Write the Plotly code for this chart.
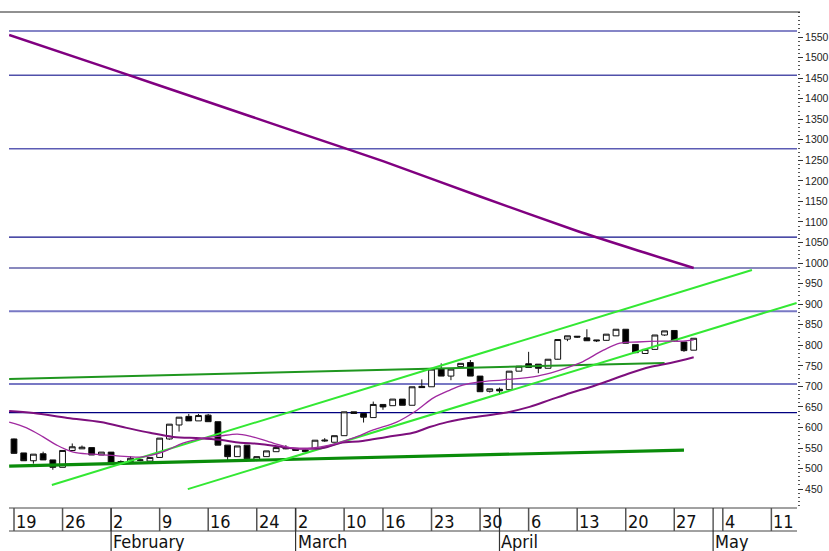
import plotly.graph_objects as go

# ---------------- data ----------------
trade_days = [
    "Jan 19", "Jan 20", "Jan 21", "Jan 22", "Jan 23",
    "Jan 26", "Jan 27", "Jan 28", "Jan 29", "Jan 30",
    "Feb 2", "Feb 3", "Feb 4", "Feb 5", "Feb 6",
    "Feb 9", "Feb 10", "Feb 11", "Feb 12", "Feb 13",
    "Feb 16", "Feb 17", "Feb 18", "Feb 19", "Feb 20",
    "Feb 24", "Feb 25", "Feb 26", "Feb 27",
    "Mar 2", "Mar 3", "Mar 4", "Mar 5", "Mar 6",
    "Mar 10", "Mar 11", "Mar 12", "Mar 13",
    "Mar 16", "Mar 17", "Mar 18", "Mar 19", "Mar 20",
    "Mar 23", "Mar 24", "Mar 25", "Mar 26", "Mar 27",
    "Mar 30", "Mar 31", "Apr 1", "Apr 2", "Apr 3",
    "Apr 6", "Apr 7", "Apr 8", "Apr 9", "Apr 10",
    "Apr 13", "Apr 14", "Apr 15", "Apr 16", "Apr 17",
    "Apr 20", "Apr 21", "Apr 22", "Apr 23", "Apr 24",
    "Apr 27", "Apr 28", "Apr 29",
]
future_days = ["Apr 30", "May 1", "May 4", "May 5", "May 6", "May 7", "May 8",
               "May 11", "May 12", "May 13", "May 14", "May 15"]

opens = [572, 538, 519, 536, 521, 503, 544, 548, 551, 533,
         540, 513, 517, 520, 518, 527, 572, 606, 627, 616,
         630, 614, 557, 529, 557, 521, 529, 541, 548, 549,
         545, 549, 567, 564, 580, 638, 634, 624, 656, 653,
         669, 654, 700, 699, 742, 725, 748, 758, 725, 688,
         693, 692, 737, 755, 754, 744, 766, 815, 822, 818,
         813, 812, 823, 839, 802, 780, 790, 825, 836, 808,
         788]
highs = [573, 538, 535, 541, 521, 544, 561, 556, 551, 540,
         540, 520, 530, 522, 527, 574, 608, 625, 633, 633,
         633, 614, 557, 555, 557, 529, 543, 555, 557, 549,
         546, 569, 574, 580, 638, 638, 634, 663, 656, 669,
         669, 699, 717, 742, 756, 742, 756, 764, 725, 694,
         697, 737, 749, 784, 754, 766, 814, 823, 822, 839,
         813, 827, 839, 839, 802, 791, 825, 835, 836, 808,
         817]
lows = [536, 519, 512, 521, 497, 503, 544, 548, 533, 533,
        509, 513, 517, 518, 518, 527, 570, 590, 616, 616,
        614, 557, 518, 529, 522, 518, 529, 541, 547, 544,
        541, 549, 565, 564, 580, 634, 612, 624, 643, 653,
        654, 654, 697, 699, 725, 715, 748, 725, 687, 685,
        679, 691, 737, 746, 732, 744, 767, 810, 818, 811,
        808, 813, 823, 805, 781, 779, 791, 823, 808, 784,
        788]
closes = [537, 519, 535, 521, 503, 544, 553, 552, 533, 540,
          513, 517, 525, 521, 527, 574, 608, 625, 616, 629,
          614, 557, 529, 555, 524, 529, 543, 551, 550, 544,
          541, 569, 569, 580, 638, 634, 625, 656, 650, 669,
          654, 699, 697, 742, 725, 742, 756, 725, 687, 694,
          689, 737, 749, 746, 744, 766, 814, 823, 820, 811,
          811, 827, 839, 805, 782, 790, 825, 835, 811, 787,
          817]

# short moving average (thin purple), sampled positions (trading-day index) and values
ma_short_x = [-0.5, 1.3, 3.0, 4.4, 6.1, 8.1, 10.6, 13.0, 14.3, 15.8, 17.4, 19.5,
              21.2, 23.0, 24.3, 26.7, 28.7, 30.8, 32.5, 34.9, 37.0, 39.4, 41.5,
              43.2, 44.9, 46.2, 48.0, 50.4, 53.9, 55.9, 58.3, 60.7, 62.4, 64.2,
              66.8, 68.9, 70.0]
ma_short_y = [613, 599, 577, 557, 540, 535, 531, 528, 533, 545, 562, 574,
              579, 584, 579, 562, 550, 550, 557, 574, 594, 613, 642,
              672, 691, 703, 711, 716, 725, 737, 757, 788, 805, 808,
              810, 810, 813]
# longer moving average (thicker purple)
ma_long_x = [-0.5, 2.0, 5.5, 8.9, 11.6, 14.0, 16.4, 19.2, 21.2, 23.3, 25.3, 27.7,
             29.8, 31.8, 33.6, 35.9, 38.4, 41.1, 42.8, 44.6, 47.3, 50.4, 53.1,
             55.2, 57.3, 59.3, 61.4, 63.4, 65.5, 67.6, 70.0]
ma_long_y = [640, 635, 623, 613, 599, 587, 577, 574, 570, 563, 560, 552,
             548, 550, 562, 567, 577, 587, 601, 613, 625, 635, 650,
             667, 684, 698, 715, 732, 747, 757, 771]
# long-term declining average
trend_long_x = [-0.5, 10, 20, 29, 38, 48, 58, 65, 70]
trend_long_y = [1555, 1472, 1392, 1320, 1248, 1162, 1078, 1025, 988]

# trend lines (endpoints: trading-day index, price)
support_x = [-0.5, 69.0]
support_y = [506, 545]
resist_x = [-0.5, 67.0]
resist_y = [718, 757]
chan_up_x = [3.9, 76.0]
chan_up_y = [460, 983]
chan_lo_x = [17.9, 80.6]
chan_lo_y = [450, 903]

# horizontal price levels
levels = [1565, 1457, 1278, 1063, 988, 883, 706, 636]
level_colors = ["#5c5cb4", "#5050aa", "#5c5cb4", "#10108a", "#14147e",
                "#7878c4", "#7878c4", "#000080"]
level_widths = [1.5, 1.5, 1.5, 1.2, 1.2, 2, 2, 1.2]

week_ticks = ["Jan 19", "Jan 26", "Feb 2", "Feb 9", "Feb 16", "Feb 24", "Mar 2",
              "Mar 10", "Mar 16", "Mar 23", "Mar 30", "Apr 6", "Apr 13",
              "Apr 20", "Apr 27", "May 4", "May 11"]
month_starts = ["Feb 2", "Mar 2", "Apr 1", "May 1"]
month_names = ["February", "March", "April", "May"]

y_ticks = list(range(450, 1551, 50))

# ---------------- figure ----------------
all_days = trade_days + future_days
pos = {d: i for i, d in enumerate(all_days)}
idx = list(range(len(trade_days)))

W, H = 829, 551
ML, MR, MT, MB = 9, 32, 12, 43
PH = H - MT - MB
PW = W - ML - MR
XR = [-0.515, 80.64]

NARROW = "Liberation Sans Narrow, Arial Narrow, DejaVu Sans Condensed, Liberation Sans, sans-serif"

fig = go.Figure()

fig.add_trace(go.Scatter(x=trend_long_x, y=trend_long_y, mode="lines", line_shape="spline",
                         line=dict(color="#800080", width=2.5, smoothing=0.6), hoverinfo="skip"))
fig.add_trace(go.Scatter(x=support_x, y=support_y, mode="lines",
                         line=dict(color="#0a8c0a", width=3.2), hoverinfo="skip"))
fig.add_trace(go.Scatter(x=resist_x, y=resist_y, mode="lines",
                         line=dict(color="#1f961f", width=2), hoverinfo="skip"))
fig.add_trace(go.Scatter(x=chan_up_x, y=chan_up_y, mode="lines",
                         line=dict(color="#33e833", width=2), hoverinfo="skip"))
fig.add_trace(go.Scatter(x=chan_lo_x, y=chan_lo_y, mode="lines",
                         line=dict(color="#33e833", width=2), hoverinfo="skip"))
fig.add_trace(go.Scatter(x=ma_long_x, y=ma_long_y, mode="lines", line_shape="spline",
                         line=dict(color="#7d0f7d", width=2), hoverinfo="skip"))
fig.add_trace(go.Scatter(x=ma_short_x, y=ma_short_y, mode="lines", line_shape="spline",
                         line=dict(color="#a02aa0", width=1.3), hoverinfo="skip"))

fig.add_trace(go.Candlestick(
    x=idx, open=opens, high=highs, low=lows, close=closes,
    increasing=dict(line=dict(color="#111111", width=1), fillcolor="white"),
    decreasing=dict(line=dict(color="#111111", width=1), fillcolor="black"),
    whiskerwidth=0, hoverinfo="skip",
))

shapes = []
for lv, c, w in zip(levels, level_colors, level_widths):
    shapes.append(dict(type="line", xref="paper", yref="y", x0=0, x1=1, y0=lv, y1=lv,
                       line=dict(color=c, width=w), layer="below"))
# top border
shapes.append(dict(type="line", xref="paper", yref="paper", x0=-ML / PW, x1=1 + 3 / PW,
                   y0=1, y1=1, line=dict(color="#222", width=1)))
# x-axis frame
row1 = -23 / PH
bottom = -MB / PH
for yy in (0, row1):
    shapes.append(dict(type="line", xref="paper", yref="paper", x0=0, x1=1,
                       y0=yy, y1=yy, line=dict(color="#444", width=1)))
for d in week_ticks:
    shapes.append(dict(type="line", xref="x", yref="paper", x0=pos[d], x1=pos[d],
                       y0=0, y1=row1, line=dict(color="#555", width=1.5)))
for d in month_starts:
    shapes.append(dict(type="line", xref="x", yref="paper", x0=pos[d], x1=pos[d],
                       y0=0, y1=bottom, line=dict(color="#333", width=1.2)))

annotations = []
for d in week_ticks:
    annotations.append(dict(x=pos[d], y=-13.5 / PH, xref="x", yref="paper",
                            text=d.split()[1], showarrow=False, xanchor="left",
                            yanchor="middle", xshift=0,
                            font=dict(family=NARROW, size=18, color="#111")))
for d, name in zip(month_starts, month_names):
    annotations.append(dict(x=pos[d], y=-33.5 / PH, xref="x", yref="paper",
                            text=name, showarrow=False, xanchor="left",
                            yanchor="middle", xshift=0,
                            font=dict(family=NARROW, size=18, color="#111")))

fig.update_layout(
    width=W, height=H,
    margin=dict(l=ML, r=MR, t=MT, b=MB, pad=0, autoexpand=False),
    paper_bgcolor="white", plot_bgcolor="white",
    showlegend=False, boxgap=0.15,
    shapes=shapes, annotations=annotations,
    xaxis=dict(range=XR, showticklabels=False, showgrid=False, zeroline=False,
               showline=False, ticks="", rangeslider=dict(visible=False),
               fixedrange=True, automargin=False),
    yaxis=dict(range=[404, 1611], side="right", tickvals=y_ticks,
               ticktext=[str(v) for v in y_ticks], showgrid=False, zeroline=False,
               showline=False, ticks="outside", ticklen=5, tickwidth=1, tickcolor="#333",
               minor=dict(dtick=10, ticks="outside", ticklen=2, tickcolor="#555", tickwidth=1),
               tickfont=dict(family="Liberation Sans, Arial, sans-serif", size=10.5, color="#222"),
               fixedrange=True, automargin=False),
)

fig.write_html("out.html", config={"displayModeBar": False},
               post_script="document.body.style.margin='0';document.body.style.overflow='hidden';")
